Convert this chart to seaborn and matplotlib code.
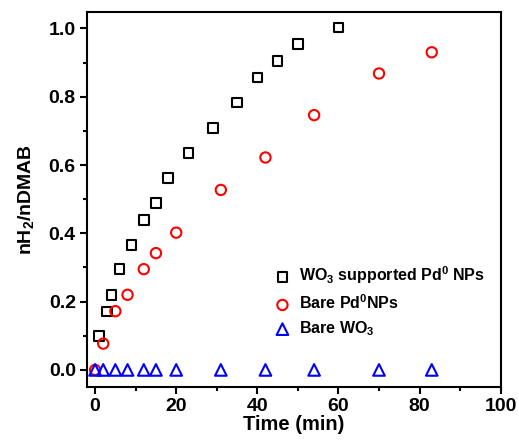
import matplotlib
matplotlib.use("Agg")
import matplotlib.pyplot as plt
import seaborn as sns
import pandas as pd
from matplotlib.ticker import MultipleLocator, FormatStrFormatter

# Hydrogen evolution from DMAB dehydrogenation
time_supported = [1, 3, 4, 6, 9, 12, 15, 18, 23, 29, 35, 40, 45, 50, 60]
ratio_supported = [0.10, 0.171, 0.22, 0.295, 0.366, 0.439, 0.489, 0.562, 0.635,
                   0.709, 0.783, 0.856, 0.905, 0.955, 1.003]

time_bare_pd = [0, 2, 5, 8, 12, 15, 20, 31, 42, 54, 70, 83]
ratio_bare_pd = [0.0, 0.077, 0.172, 0.22, 0.295, 0.342, 0.402, 0.527, 0.622,
                 0.746, 0.868, 0.930]

time_bare_wo3 = [0, 2, 5, 8, 12, 15, 20, 31, 42, 54, 70, 83]
ratio_bare_wo3 = [0.0] * len(time_bare_wo3)

labels = [r"WO$_3$ supported Pd$^0$ NPs", r"Bare Pd$^0$NPs", r"Bare WO$_3$"]

sns.set_theme(style="ticks")
plt.rcParams["font.family"] = ["Liberation Sans", "DejaVu Sans"]
plt.rcParams["font.weight"] = "bold"
plt.rcParams["text.color"] = "black"
plt.rcParams["axes.labelcolor"] = "black"
plt.rcParams["xtick.color"] = "black"
plt.rcParams["ytick.color"] = "black"
plt.rcParams["mathtext.fontset"] = "custom"
plt.rcParams["mathtext.rm"] = "Liberation Sans:bold"
plt.rcParams["mathtext.bf"] = "Liberation Sans:bold"
plt.rcParams["mathtext.it"] = "Liberation Sans:bold"
plt.rcParams["mathtext.default"] = "bf"

fig = plt.figure(figsize=(5.19, 4.46), dpi=100)
ax = fig.add_axes([0.1676, 0.1323, 0.7971, 0.8408])

series = [
    (time_supported, ratio_supported, "s", "black", 48, labels[0]),
    (time_bare_pd, ratio_bare_pd, "o", "#ff0000", 55, labels[1]),
    (time_bare_wo3, ratio_bare_wo3, "^", "#0000ff", 70, labels[2]),
]
for xs, ys, mk, col, size, lab in series:
    df = pd.DataFrame({"t": xs, "r": ys})
    sns.scatterplot(data=df, x="t", y="r", ax=ax, marker=mk, s=size,
                    facecolor="none", edgecolor=col, linewidth=1.5,
                    label=lab, zorder=3)

ax.set_xlim(-2, 100)
ax.set_ylim(-0.05, 1.048)
ax.xaxis.set_major_locator(MultipleLocator(20))
ax.xaxis.set_minor_locator(MultipleLocator(10))
ax.yaxis.set_major_locator(MultipleLocator(0.2))
ax.yaxis.set_minor_locator(MultipleLocator(0.1))
ax.yaxis.set_major_formatter(FormatStrFormatter("%.1f"))
ax.tick_params(which="major", direction="out", length=5, width=1.5,
               labelsize=14, top=False, right=False, pad=3)
ax.tick_params(which="minor", direction="out", length=3, width=1.5,
               top=False, right=False)
for lbl in ax.get_xticklabels() + ax.get_yticklabels():
    lbl.set_fontweight("bold")
for sp in ax.spines.values():
    sp.set_visible(True)
    sp.set_linewidth(1.5)
    sp.set_color("black")

ax.set_xlabel("Time (min)", fontsize=14.5, fontweight="bold", labelpad=0)
ax.set_ylabel(r"nH$_2$/nDMAB", fontsize=14, fontweight="bold", labelpad=9)

leg = ax.legend(loc="lower right", bbox_to_anchor=(0.985, 0.105), frameon=False,
                fontsize=11.5, handletextpad=0.55, labelspacing=0.45,
                markerscale=1.0, borderaxespad=0.2, handlelength=1.0)
for t in leg.get_texts():
    t.set_fontweight("bold")

fig.savefig("out.png", dpi=100)
